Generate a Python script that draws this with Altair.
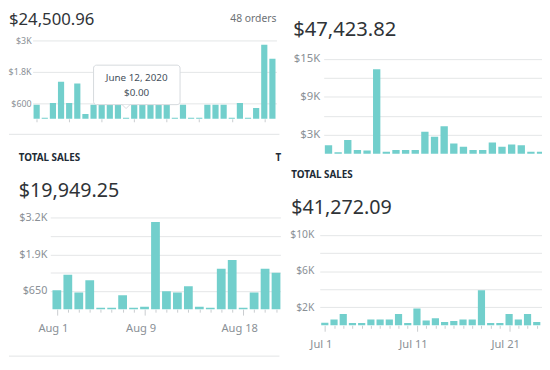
import altair as alt
import pandas as pd

FONT = "Noto Sans"
BAR = "#72CFCC"
GRID = "#E3E5E7"
TICK = "#C9CCCF"
LABEL = "#8A9096"
INK = "#2F3337"
MUTED = "#6D7175"
SEP = "#E1E3E5"
TIP_BORDER = "#D5D9DD"

# ---------------- Panel 1 (June 2020) ----------------
p1_days = list(range(1, 31))
p1_sales = [542, 38, 605, 1424, 605, 1361, 189, 542, 542, 542, 542, 0, 542, 542, 542,
            542, 542, 38, 542, 38, 38, 542, 542, 542, 38, 605, 38, 416, 2848, 2306]
p1_total = "$24,500.96"
p1_orders = "48 orders"
p1_ticks = [600, 1200, 1800, 2400, 3000]
p1_tick_labels = ["$600", "", "$1.8K", "", "$3K"]
tip_day = 12
tip_date = "June 12, 2020"
tip_value = "$0.00"

# ---------------- Panel 2 ----------------
p2_days = list(range(1, 24))
p2_sales = [1337, 250, 2176, 622, 513, 13368, 311, 622, 622, 622, 3466, 2689, 4352,
            1648, 1135, 622, 622, 1803, 1135, 1492, 1337, 311, 311]
p2_total = "$47,423.82"
p2_ticks = [3000, 6000, 9000, 12000, 15000]
p2_tick_labels = ["$3K", "", "$9K", "", "$15K"]

# ---------------- Panel 3 (August) ----------------
p3_days = list(range(1, 22))
p3_sales = [673, 1224, 591, 1025, 53, 53, 498, 53, 88, 3098, 638, 591, 814, 88, 53,
            1435, 1751, 53, 591, 1435, 1294]
p3_title = "TOTAL SALES"
p3_total = "$19,949.25"
p3_ticks = [650, 1300, 1950, 2600, 3250]
p3_tick_labels = ["$650", "", "$1.9K", "", "$3.2K"]
p3_label_days = [1, 9, 18]
p3_label_text = ["Aug 1", "Aug 9", "Aug 18"]

# ---------------- Panel 4 (July) ----------------
p4_days = list(range(1, 25))
p4_sales = [287, 646, 1256, 251, 251, 646, 646, 646, 1256, 251, 1865, 538, 789, 359,
            466, 646, 646, 3874, 251, 251, 1256, 646, 1256, 359]
p4_title = "TOTAL SALES"
p4_total = "$41,272.09"
p4_ticks = [2000, 4000, 6000, 8000, 10000]
p4_tick_labels = ["$2K", "", "$6K", "", "$10K"]
p4_label_days = [1, 11, 21]
p4_label_text = ["Jul 1", "Jul 11", "Jul 21"]

# cell sizes of the 2x2 collage
LW, RW = 282, 260
TH, BH = 146, 208


def label_expr(values, labels):
    parts = [f"datum.value == {v} ? '{l}'" for v, l in zip(values, labels) if l]
    return " : ".join(parts) + " : ''"


def y_axis(ticks, labels, size, pad, offset):
    return alt.Axis(values=ticks, labelExpr=label_expr(ticks, labels), grid=True,
                    gridColor=GRID, gridWidth=1, domain=False, ticks=False,
                    labelPadding=pad, labelFontSize=size, labelColor=LABEL,
                    labelFont=FONT, title=None, labelOverlap=False, offset=offset)


def date_axis(days, lab_days, lab_text, offset, axis_offset):
    cond = " || ".join(f"datum.value == {d}" for d in lab_days)
    return alt.Axis(values=days, labelExpr=label_expr(lab_days, lab_text), domain=False,
                    grid=False, tickSize={"condition": {"test": cond, "value": 6}, "value": 3},
                    tickColor=TICK, labelFontSize=11.3, labelColor=LABEL, labelFont=FONT,
                    labelPadding=8, labelOffset=offset, labelFlush=False,
                    labelOverlap=False, title=None, offset=axis_offset)


def bars(days, sales, xs, ys, xaxis, yaxis, half, min_bar):
    df = pd.DataFrame({"day": days, "sales": sales})
    return alt.Chart(df).transform_calculate(
        x0=f"datum.day - {half}", x1=f"datum.day + {half}",
        shown=f"max(datum.sales, {min_bar})", base="0"
    ).mark_rect(color=BAR, clip=True).encode(
        x=alt.X("x0:Q", scale=xs, axis=xaxis),
        x2="x1:Q",
        y=alt.Y("shown:Q", scale=ys, axis=yaxis),
        y2="base:Q",
    )


def label(text, x, y, size, weight="normal", color=INK, align="left"):
    return alt.Chart(pd.DataFrame({"t": [text]})).mark_text(
        align=align, baseline="alphabetic", fontSize=size, fontWeight=weight,
        color=color, font=FONT
    ).encode(x=alt.value(x), y=alt.value(y), text="t:N")


def separator(x1, x2, y):
    return alt.Chart(pd.DataFrame({"a": [0]})).mark_rule(color=SEP, strokeWidth=1).encode(
        x=alt.value(x1), x2=alt.value(x2), y=alt.value(y))


# ---- panel 1 (cell at page 8,8) ----
xs1 = alt.Scale(domain=[0.5, 30.5], range=[24, 272], nice=False, zero=False)
ys1 = alt.Scale(domain=[0, 3000], range=[109.7, 30.3], nice=False)
ax1 = alt.Axis(values=p1_days, labels=False, domain=False, grid=False, tickSize=3,
               tickColor=TICK, title=None, offset=-(TH - 109.7))
b1 = bars(p1_days, p1_sales, xs1, ys1, ax1,
          y_axis(p1_ticks, p1_tick_labels, 9, 1.5, -24), 0.38, 40)

tip_df = pd.DataFrame({"bx0": [8.0], "bx1": [18.64], "by0": [545], "by1": [2062]})
tip_box = alt.Chart(tip_df).mark_rect(fill="white", stroke=TIP_BORDER, strokeWidth=1,
                                      cornerRadius=3).encode(
    x=alt.X("bx0:Q", scale=xs1, title=None), x2="bx1:Q",
    y=alt.Y("by0:Q", scale=ys1, title=None), y2="by1:Q")
tip_ptr = alt.Chart(pd.DataFrame({"d": [tip_day], "v": [545]})).mark_point(
    shape="M -1 0 L 0 1 L 1 0", size=64, filled=True, fill="white", stroke=TIP_BORDER,
    strokeWidth=1, opacity=1).encode(
    x=alt.X("d:Q", scale=xs1, title=None), y=alt.Y("v:Q", scale=ys1, title=None))
tip_txt = alt.Chart(pd.DataFrame({"x": [13.3, 13.3], "y": [1561, 980],
                                  "t": [tip_date, tip_value]})).mark_text(
    fontSize=10, color="#454F5B", font=FONT, baseline="middle").encode(
    x=alt.X("x:Q", scale=xs1, title=None), y=alt.Y("y:Q", scale=ys1, title=None), text="t:N")

p1 = alt.layer(
    b1, tip_box, tip_ptr, tip_txt,
    label(p1_total, 0, 14, 17),
    label(p1_orders, 272, 11.5, 10.5, color=MUTED, align="right"),
    separator(0, 275, 125.5),
).properties(width=LW, height=TH)

# ---- panel 2 (cell at page 290,8) ----
xs2 = alt.Scale(domain=[0.5, 23.15], range=[38, 260], nice=False, zero=False)
ys2 = alt.Scale(domain=[0, 15000], range=[145.3, 48.7], nice=False)
b2 = bars(p2_days, p2_sales, xs2, ys2, None,
          y_axis(p2_ticks, p2_tick_labels, 11.5, 4, -38), 0.38, 150)
p2 = alt.layer(
    b2,
    label(p2_total, 7, 25.5, 20.5),
).properties(width=RW, height=TH)

# ---- panel 3 (cell at page 8,154) ----
xs3 = alt.Scale(domain=[0.4, 21.4], range=[42, 276], nice=False, zero=False)
ys3 = alt.Scale(domain=[0, 3250], range=[157.3, 64.3], nice=False)
b3 = bars(p3_days, p3_sales, xs3, ys3,
          date_axis(p3_days, p3_label_days, p3_label_text, -4, -(BH - 157.3)),
          y_axis(p3_ticks, p3_tick_labels, 11, 3.5, -42), 0.4, 50)
p3 = alt.layer(
    b3,
    label(p3_title, 10, 6.7, 10, weight="bold", color="#212B36"),
    label(p3_total, 10, 43.3, 20),
    label("T", 271, 6.7, 10, weight="bold", color="#212B36"),
    separator(0, 275, 205),
).properties(width=LW, height=BH)

# ---- panel 4 (cell at page 290,154) ----
xs4 = alt.Scale(domain=[0.45, 24.57], range=[34, 260], nice=False, zero=False)
ys4 = alt.Scale(domain=[0, 10000], range=[173.7, 81.7], nice=False)
b4 = bars(p4_days, p4_sales, xs4, ys4,
          date_axis(p4_days, p4_label_days, p4_label_text, -4, -(BH - 173.7)),
          y_axis(p4_ticks, p4_tick_labels, 10.5, 6, -34), 0.39, 100)
p4 = alt.layer(
    b4,
    label(p4_title, 5, 24.3, 10, weight="bold", color="#212B36"),
    label(p4_total, 5, 60.3, 20),
).properties(width=RW, height=BH)

chart = alt.concat(p1, p2, p3, p4, columns=2, spacing=0, bounds="flush").properties(
    padding=0).configure_view(stroke=None)

chart.save("out.html", embed_options={"renderer": "svg", "actions": False})
